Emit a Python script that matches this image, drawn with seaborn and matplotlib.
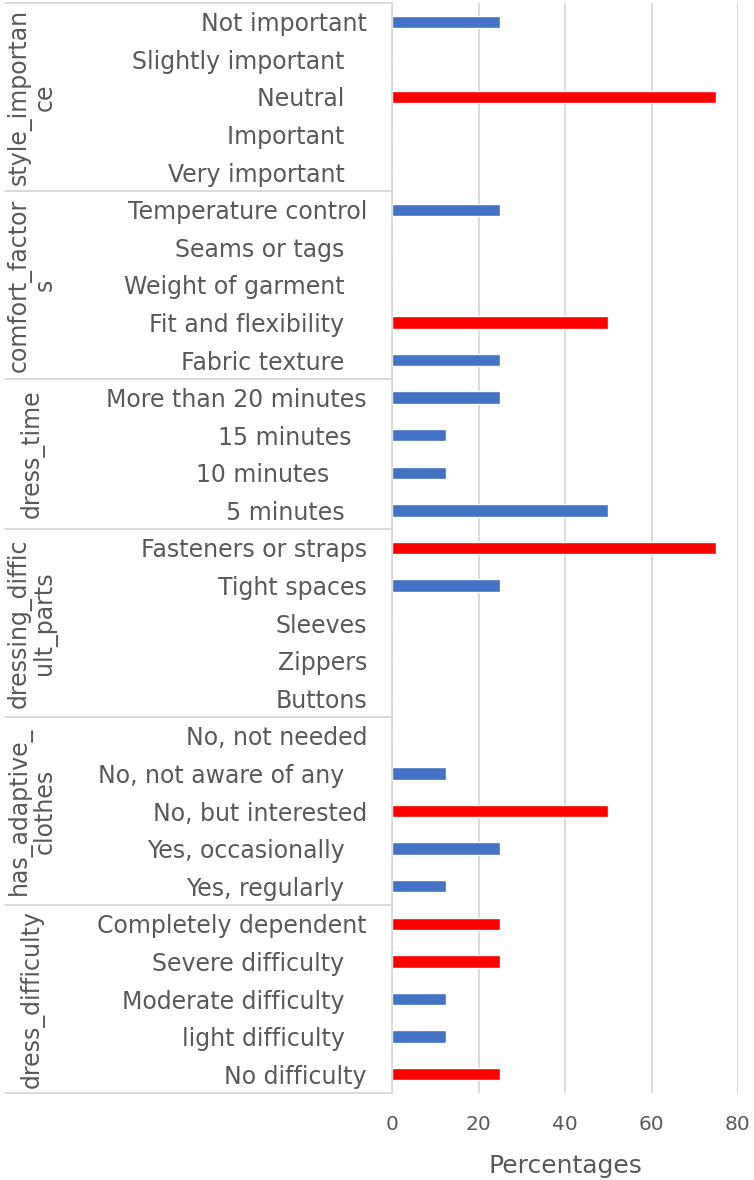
import matplotlib
matplotlib.use("Agg")
import matplotlib.pyplot as plt
import matplotlib.transforms as mtransforms
import seaborn as sns
import pandas as pd

# question groups (top to bottom) and their wrapped labels
groups = ["style_importance", "comfort_factors", "dress_time",
          "dressing_difficult_parts", "has_adaptive_clothes", "dress_difficulty"]
group_labels = ["style_importan\nce", "comfort_factor\ns", "dress_time",
                "dressing_diffic\nult_parts", "has_adaptive_\nclothes", "dress_difficulty"]

# answer labels keep the trailing spaces they have in the source sheet
style_importance = ["Not important", "Slightly important   ", "Neutral   ",
                    "Important   ", "Very important   "]
style_vals = [25, 0, 75, 0, 0]
style_hi = [0, 0, 1, 0, 0]

comfort_factors = ["Temperature control", "Seams or tags   ", "Weight of garment   ",
                   "Fit and flexibility   ", "Fabric texture   "]
comfort_vals = [25, 0, 0, 50, 25]
comfort_hi = [0, 0, 0, 1, 0]

dress_time = ["More than 20 minutes", "15 minutes  ", "10 minutes     ", "5 minutes   "]
time_vals = [25, 12.5, 12.5, 50]
time_hi = [0, 0, 0, 0]

difficult_parts = ["Fasteners or straps", "Tight spaces", "Sleeves", "Zippers", "Buttons"]
parts_vals = [75, 25, 0, 0, 0]
parts_hi = [1, 0, 0, 0, 0]

adaptive = ["No, not needed", "No, not aware of any   ", "No, but interested",
            "Yes, occasionally   ", "Yes, regularly   "]
adaptive_vals = [0, 12.5, 50, 25, 12.5]
adaptive_hi = [0, 0, 1, 0, 0]

difficulty = ["Completely dependent", "Severe difficulty   ", "Moderate difficulty   ",
              "light difficulty   ", "No difficulty"]
difficulty_vals = [25, 25, 12.5, 12.5, 25]
difficulty_hi = [1, 1, 0, 0, 1]

cats = [style_importance, comfort_factors, dress_time, difficult_parts, adaptive, difficulty]
vals = [style_vals, comfort_vals, time_vals, parts_vals, adaptive_vals, difficulty_vals]
his = [style_hi, comfort_hi, time_hi, parts_hi, adaptive_hi, difficulty_hi]

rows = []
for g, c, v, h in zip(groups, cats, vals, his):
    for lab, val, hi in zip(c, v, h):
        rows.append({"group": g, "label": lab, "value": val, "hi": "red" if hi else "blue"})
df = pd.DataFrame(rows)

sns.set_theme(style="white")
plt.rcParams["font.family"] = ["DejaVu Sans"]
gray = "#595959"
narrow = ["Liberation Sans Narrow", "DejaVu Sans"]

fig = plt.figure(figsize=(7.54, 11.8), dpi=100)
ax = fig.add_axes([392 / 754, 1 - 1093 / 1180, 346 / 754, 1090 / 1180])

sns.barplot(data=df, y="label", x="value", hue="hi", order=df["label"].tolist(),
            palette={"blue": "#4472C4", "red": "#FF0000"}, dodge=False, saturation=1,
            width=0.33, orient="h", legend=False, ax=ax)

ax.set_xlim(0, 80)
ax.set_ylim(len(df) - 0.5, -0.5)
ax.set_xticks([0, 20, 40, 60, 80])
ax.xaxis.grid(True, color="#d9d9d9", linewidth=1.3)
ax.set_axisbelow(True)
for s in ["top", "right", "bottom"]:
    ax.spines[s].set_visible(False)
ax.spines["left"].set_color("#d9d9d9")
ax.spines["left"].set_linewidth(1.3)

ax.tick_params(axis="y", length=0, pad=18, labelsize=17, labelcolor=gray)
ax.tick_params(axis="x", length=0, pad=16, labelsize=14.5, labelcolor=gray)
for t in ax.get_xticklabels():
    t.set_family(narrow)
ax.set_ylabel("")
ax.set_xlabel("Percentages", fontsize=18, color=gray, labelpad=14, family=narrow)

# group separators and rotated group names on the left
trans = mtransforms.blended_transform_factory(ax.transAxes, ax.transData)
x_left = (5 - 392) / 346
start = 0
bounds = [-0.5]
for c in cats:
    start += len(c)
    bounds.append(start - 0.5)
for b in bounds:
    ax.plot([x_left, 0], [b, b], color="#d9d9d9", lw=1.3, transform=trans, clip_on=False)
for i, lab in enumerate(group_labels):
    mid = (bounds[i] + bounds[i + 1]) / 2
    ax.text((32 - 392) / 346, mid, lab, rotation=90, ha="center", va="center",
            fontsize=17, color=gray, transform=trans, linespacing=1.05)

fig.savefig("out.png", dpi=100)
